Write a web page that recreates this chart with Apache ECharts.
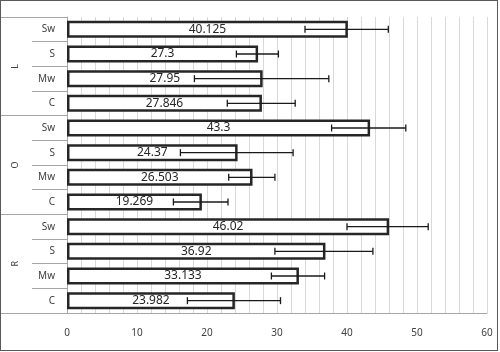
<!DOCTYPE html>
<html>
<head>
<meta charset="utf-8">
<script src="https://cdn.jsdelivr.net/npm/echarts@6/dist/echarts.min.js"></script>
<style>
  html, body { margin: 0; padding: 0; background: #fff; }
  #chart { position: absolute; left: 0; top: 0; width: 500px; height: 352px; }
  #frame { position: absolute; left: 0; top: 0; width: 498px; height: 351px;
           border: 1px solid #595959; box-sizing: border-box; pointer-events: none; }
</style>
</head>
<body>
<div id="chart"></div>
<div id="frame"></div>
<script>
// two-level category axis: group (outer) and sub-category (inner), listed top to bottom
var groups = ['L', 'O', 'R'];
var subs = ['Sw', 'S', 'Mw', 'C'];
var labels = ['Sw', 'S', 'Mw', 'C', 'Sw', 'S', 'Mw', 'C', 'Sw', 'S', 'Mw', 'C'];
var values = [40.125, 27.3, 27.95, 27.846, 43.3, 24.37, 26.503, 19.269, 46.02, 36.92, 33.133, 23.982];
var errLow = [34.0, 24.2, 18.2, 22.9, 37.8, 16.2, 23.1, 15.2, 40.0, 29.7, 29.2, 17.2];
var errHigh = [45.9, 30.2, 37.4, 32.6, 48.4, 32.3, 29.7, 23.0, 51.6, 43.7, 36.8, 30.5];
var xTicks = [0, 10, 20, 30, 40, 50, 60];

var errData = [];
for (var i = 0; i < values.length; i++) {
    errData.push([i, errLow[i], errHigh[i]]);
}

var chart = echarts.init(document.getElementById('chart'));
chart.setOption({
    animation: false,
    textStyle: { fontFamily: 'Noto Sans' },
    grid: { left: 67, right: 13, top: 17, bottom: 39 },
    xAxis: {
        type: 'value',
        min: xTicks[0],
        max: xTicks[xTicks.length - 1],
        interval: 10,
        axisLine: { show: true, lineStyle: { color: '#a6a6a6', width: 1 } },
        axisTick: { show: false },
        axisLabel: { fontSize: 10, color: '#404040', margin: 15 },
        splitLine: { show: true, lineStyle: { color: '#d9d9d9', width: 1 } },
        minorTick: { show: false, splitNumber: 5 },
        minorSplitLine: { show: true, lineStyle: { color: '#d9d9d9', width: 1 } }
    },
    yAxis: [
        {
            type: 'category',
            data: labels,
            inverse: true,
            position: 'left',
            axisLine: { show: true, onZero: false, lineStyle: { color: '#a6a6a6' } },
            axisTick: { show: true, interval: 0, length: 35, lineStyle: { color: '#a6a6a6' } },
            axisLabel: { interval: 0, fontSize: 10, color: '#404040', margin: 12 }
        },
        {
            type: 'category',
            data: groups,
            inverse: true,
            position: 'left',
            axisLine: { show: false, onZero: false },
            axisTick: { show: true, interval: 0, length: 67, lineStyle: { color: '#a6a6a6' } },
            axisLabel: { interval: 0, fontSize: 9, color: '#404040', margin: 47, rotate: 90 }
        }
    ],
    series: [
        {
            type: 'bar',
            yAxisIndex: 0,
            data: values,
            barWidth: 17,
            itemStyle: { color: '#ffffff', borderColor: '#262626', borderWidth: 2.5 },
            label: { show: true, position: 'inside', fontSize: 12, color: '#262626' }
        },
        {
            type: 'custom',
            yAxisIndex: 0,
            z: 5,
            data: errData,
            renderItem: function (params, api) {
                var cat = api.value(0);
                var lo = api.coord([api.value(1), cat]);
                var hi = api.coord([api.value(2), cat]);
                var h = 3.5;
                var style = { stroke: '#1a1a1a', lineWidth: 1.3 };
                return {
                    type: 'group',
                    children: [
                        { type: 'line', shape: { x1: lo[0], y1: lo[1], x2: hi[0], y2: hi[1] }, style: style },
                        { type: 'line', shape: { x1: lo[0], y1: lo[1] - h, x2: lo[0], y2: lo[1] + h }, style: style },
                        { type: 'line', shape: { x1: hi[0], y1: hi[1] - h, x2: hi[0], y2: hi[1] + h }, style: style }
                    ]
                };
            }
        }
    ]
});
</script>
</body>
</html>
